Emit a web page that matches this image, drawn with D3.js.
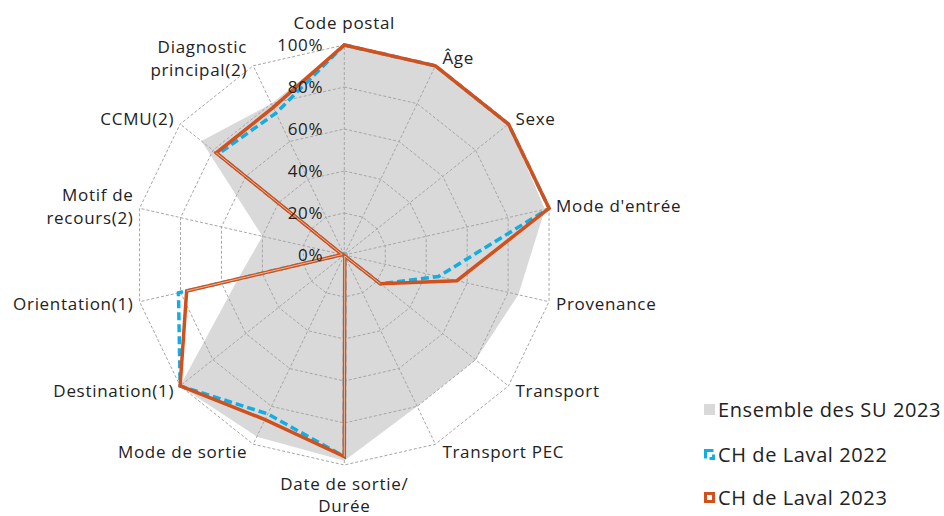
<!DOCTYPE html>
<html><head><meta charset="utf-8">
<script src="https://cdn.jsdelivr.net/npm/d3@7"></script>
<style>
html,body{margin:0;padding:0;background:#fff;}
svg text{font-family:"Open Sans", Lato, sans-serif;fill:#222;}
</style></head>
<body><svg id="chart" width="944" height="516"></svg>
<script>
const categories = [
  ["Code postal"], ["Âge"], ["Sexe"], ["Mode d'entrée"], ["Provenance"], ["Transport"],
  ["Transport PEC"], ["Date de sortie/", "Durée"], ["Mode de sortie"], ["Destination(1)"],
  ["Orientation(1)"], ["Motif de", "recours(2)"], ["CCMU(2)"], ["Diagnostic", "principal(2)"]
];
const ensembleSU2023 = [100, 100, 100, 98, 85, 80, 80, 98, 96, 100, 52, 40, 87, 80];
const laval2022      = [100, 100, 100, 100, 46, 22, 0.5, 96, 84, 100, 81, 1, 77, 75];
const laval2023      = [100, 100, 100, 100, 55, 22, 0.5, 96, 87, 100, 77, 1, 78, 78];
const tickValues = [0, 20, 40, 60, 80, 100];
const seriesNames = ["Ensemble des SU 2023", "CH de Laval 2022", "CH de Laval 2023"];

const GRAY = "#d9d9d9", BLUE = "#13ade6", ORANGE = "#d2501c", GRID = "#a6a6a6";
const cx = 344.3, cy = 255, R = 210;
const FS = 17, LS = "0.7px";
const svg = d3.select("#chart");
const n = categories.length;
const angle = d3.scaleLinear().domain([0, n]).range([0, 2 * Math.PI]);
const r = d3.scaleLinear().domain([0, 100]).range([0, R]);
const pt = (i, v) => [cx + r(v) * Math.sin(angle(i)), cy - r(v) * Math.cos(angle(i))];
const g = svg.append("g");
const closedLine = d3.line().curve(d3.curveLinearClosed);

// gray area
g.append("path").attr("d", closedLine(ensembleSU2023.map((v, i) => pt(i, v))))
  .attr("fill", GRAY).attr("stroke", "none");

// grid rings
tickValues.filter(t => t > 0).forEach(t => {
  g.append("path").attr("d", closedLine(d3.range(n).map(i => pt(i, t))))
    .attr("fill", "none").attr("stroke", GRID).attr("stroke-width", 1).attr("stroke-dasharray", "3,2");
});
// spokes
d3.range(n).forEach(i => {
  const p = pt(i, 100);
  g.append("line").attr("x1", cx).attr("y1", cy).attr("x2", p[0]).attr("y2", p[1])
    .attr("stroke", GRID).attr("stroke-width", 1).attr("stroke-dasharray", "3,2");
});
g.append("circle").attr("cx", cx).attr("cy", cy).attr("r", 3.5).attr("fill", "#a6a6a6");

// 2022 dashed
g.append("path").attr("d", closedLine(laval2022.map((v, i) => pt(i, v))))
  .attr("fill", "none").attr("stroke", BLUE).attr("stroke-width", 3.5)
  .attr("stroke-dasharray", "8,4").attr("stroke-linejoin", "miter");
// 2023 solid
g.append("path").attr("d", closedLine(laval2023.map((v, i) => pt(i, v))))
  .attr("fill", "none").attr("stroke", ORANGE).attr("stroke-width", 3.5).attr("stroke-linejoin", "miter");
// thin light inner line on edges touching near-zero vertices
d3.range(n).forEach(i => {
  const j = (i + 1) % n;
  if (laval2023[i] < 5 || laval2023[j] < 5) {
    const a = pt(i, laval2023[i]), b = pt(j, laval2023[j]);
    g.append("line").attr("x1", a[0]).attr("y1", a[1]).attr("x2", b[0]).attr("y2", b[1])
      .attr("stroke", "#e9b89c").attr("stroke-width", 1);
  }
});

// tick labels
tickValues.forEach(t => {
  g.append("text").attr("x", cx - 21).attr("y", cy - r(t)).attr("dy", "0.35em")
    .attr("text-anchor", "end").attr("font-size", FS).attr("letter-spacing", LS).text(t + "%");
});

// axis labels
categories.forEach((lines, i) => {
  const a = angle(i), s = Math.sin(a), c = Math.cos(a);
  const p = pt(i, 100);
  let anchor = "middle", x = p[0], y;
  let lh = 23;
  if (Math.abs(s) < 0.1) {
    if (c > 0) y = p[1] - 22 - (lines.length - 1) * lh;
    else { lh = 22; y = p[1] + 19; }
  } else {
    anchor = s > 0 ? "start" : "end";
    x = p[0] + (s > 0 ? 7 : -6);
    y = p[1] - 8.5 * c - (lines.length - 1) * lh / 2;
  }
  const t = g.append("text").attr("text-anchor", anchor).attr("font-size", FS).attr("letter-spacing", LS);
  lines.forEach((l, k) => t.append("tspan").attr("x", x).attr("y", y + k * lh).attr("dy", "0.35em").text(l));
});

// legend
const ly = [410, 455, 498];
const leg = svg.append("g");
leg.append("rect").attr("x", 704).attr("y", ly[0] - 6).attr("width", 11).attr("height", 11).attr("fill", GRAY);
leg.append("rect").attr("x", 705.5).attr("y", ly[1] - 4.5).attr("width", 8).attr("height", 8)
  .attr("fill", "none").attr("stroke", BLUE).attr("stroke-width", 3).attr("stroke-dasharray", "8,4");
leg.append("rect").attr("x", 705.5).attr("y", ly[2] - 4.5).attr("width", 8).attr("height", 8)
  .attr("fill", "#fff").attr("stroke", ORANGE).attr("stroke-width", 3);
seriesNames.forEach((s, k) => {
  leg.append("text").attr("x", 718).attr("y", ly[k]).attr("dy", "0.35em").attr("font-size", 20)
    .attr("letter-spacing", "0.6px").text(s);
});
</script></body></html>
